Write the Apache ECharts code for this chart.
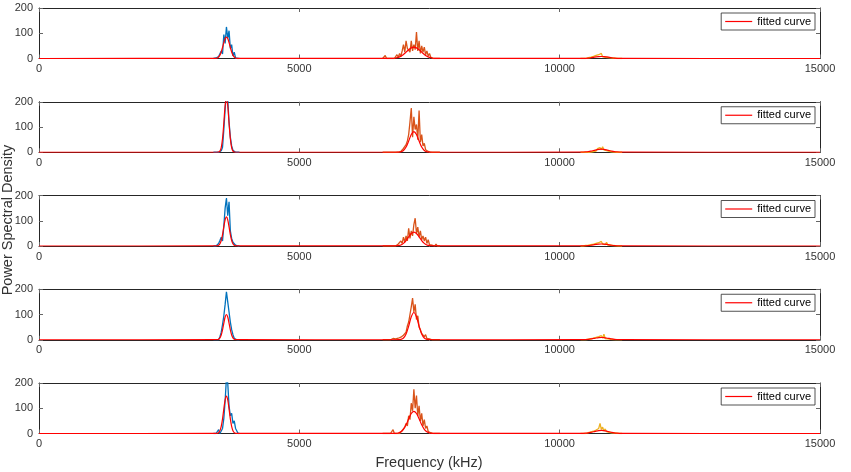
<!DOCTYPE html>
<html><head><meta charset="utf-8">
<script src="https://cdn.jsdelivr.net/npm/echarts@6/dist/echarts.min.js"></script>
<style>html,body{margin:0;padding:0;background:#fff}#c{width:851px;height:472px}</style>
</head><body><div id="c"></div>
<script>
const xTicks = [0, 5000, 10000, 15000];
const yTicks = [0, 100, 200];
const xTitle = 'Frequency (kHz)';
const yTitle = 'Power Spectral Density';
const legendName = 'fitted curve';

const freqBlue = [3350,3375,3400,3425,3450,3475,3500,3525,3550,3575,3600,3625,3650,3675,3700,3725,3750,3775,3800,3825,3850];
const freqOrange = [6600,6625,6650,6675,6700,6725,6750,6775,6800,6825,6850,6875,6900,6925,6950,6975,7000,7025,7050,7075,7100,7125,7150,7175,7200,7225,7250,7275,7300,7325,7350,7375,7400,7425,7450,7475,7500,7525,7550,7575,7600,7625,7650,7675,7700];
const freqYellow = [10400,10425,10450,10475,10500,10525,10550,10575,10600,10625,10650,10675,10700,10725,10750,10775,10800,10825,10850,10875,10900,10925,10950,10975,11000,11025,11050,11075,11100,11125,11150,11175,11200];
const freqFit = [0,3400,3425,3450,3475,3500,3525,3550,3575,3600,3625,3650,3675,3700,3725,3750,3775,3800,6800,6850,6900,6950,7000,7050,7100,7150,7200,7250,7300,7350,7400,7450,7500,7550,7600,10400,10450,10500,10550,10600,10650,10700,10750,10800,10850,10900,10950,11000,11050,11100,11150,11200,15000];

const blue1 = [0,0,2,0,8,3,30,18,95,60,125,80,110,40,55,10,25,2,6,0,0];
const blue2 = [0,0,0,0,0,2,6,20,90,170,240,210,120,60,25,8,3,0,0,0,0];
const blue3 = [0,0,0,4,10,22,35,20,80,150,190,120,175,60,30,15,8,3,0,0,0];
const blue4 = [0,5,0,3,0,12,30,60,95,140,190,150,110,70,40,20,6,2,0,0,0];
const blue5 = [0,0,0,0,15,0,5,20,60,130,220,200,110,70,80,40,50,20,10,0,0];

const orange1 = [0,0,12,0,0,0,0,0,0,0,0,15,5,20,8,30,55,25,70,40,45,25,70,30,55,35,105,30,70,20,50,25,45,15,30,10,20,5,10,0,0,0,0,0,0];
const orange2 = [0,0,0,0,0,0,0,0,0,0,0,0,0,0,3,8,15,10,30,45,70,120,175,60,140,90,110,50,165,40,70,25,35,10,15,3,0,0,0,0,0,0,0,0,0];
const orange3 = [0,0,0,0,0,0,0,0,0,0,0,0,8,4,20,10,35,15,40,20,70,30,60,40,85,110,50,75,35,60,25,40,20,35,10,25,5,12,3,0,0,8,0,0,0];
const orange4 = [0,0,0,0,0,0,0,0,5,0,3,0,6,2,10,5,18,12,30,55,70,100,130,165,110,140,80,95,50,40,25,30,12,20,5,10,3,8,0,4,0,0,0,0,0];
const orange5 = [0,0,0,0,0,0,0,0,15,0,0,0,0,0,5,12,8,25,40,30,70,55,120,90,175,100,150,70,110,50,80,30,55,20,30,8,15,3,6,0,0,0,0,0,0];

const yellow1 = [0,0,0,0,0,0,3,1,5,2,8,4,12,6,15,9,20,7,14,5,11,4,9,3,7,2,5,1,3,0,0,0,0];
const yellow2 = [0,0,0,0,0,2,0,4,1,6,3,10,5,14,8,18,10,22,9,15,6,12,4,8,2,5,1,3,0,0,0,0,0];
const yellow3 = [0,0,0,0,2,0,3,1,5,2,7,3,10,5,13,6,18,8,12,5,15,4,9,3,6,2,4,1,2,0,0,0,0];
const yellow4 = [0,0,0,0,0,0,2,0,4,1,6,3,9,4,12,6,16,7,22,5,10,4,8,2,6,1,4,0,2,0,0,0,0];
const yellow5 = [0,0,0,0,0,0,3,1,6,2,9,4,14,8,20,40,16,25,10,18,7,12,5,9,3,6,2,4,1,0,0,0,0];

const fit1 = [0, 0.7,2.3,5.9,13.4,26,43.8,63.2,79,85,79,63.2,43.8,26,13.4,5.9,2.3,0.7, 0.8,2,4.5,9.1,16.2,25.4,34.9,42.2,45,42.2,34.9,25.4,16.2,9.1,4.5,2,0.8, 0.1,0.4,0.8,1.6,2.9,4.5,6.2,7.5,8,7.5,6.2,4.5,2.9,1.6,0.8,0.4,0.1, 0];
const fit2 = [0, 0,0.1,0.8,4.5,18.3,53.8,116,185,215,185,116,53.8,18.3,4.5,0.8,0.1,0, 0,0,0.3,1.7,7,20.5,44.3,70.5,82,70.5,44.3,20.5,7,1.7,0.3,0,0, 0.2,0.5,1.2,2.4,4.3,6.8,9.3,11.2,12,11.2,9.3,6.8,4.3,2.4,1.2,0.5,0.2, 0];
const fit3 = [0, 0.1,0.7,2.8,8.7,21.9,44.9,75.9,103.5,115,103.5,75.9,44.9,21.9,8.7,2.8,0.7,0.1, 0.1,0.4,1.3,4.2,10.5,21.5,36.3,49.5,55,49.5,36.3,21.5,10.5,4.2,1.3,0.4,0.1, 0.1,0.4,0.8,1.6,2.9,4.5,6.2,7.5,8,7.5,6.2,4.5,2.9,1.6,0.8,0.4,0.1, 0];
const fit4 = [0, 0.1,0.6,2.4,7.6,19,39,66,90,100,90,66,39,19,7.6,2.4,0.6,0.1, 0,0,0.2,1.4,6.8,22.9,53.9,90.8,108,90.8,53.9,22.9,6.8,1.4,0.2,0,0, 0.2,0.4,0.9,1.8,3.2,5.1,7,8.4,9,8.4,7,5.1,3.2,1.8,0.9,0.4,0.2, 0];
const fit5 = [0, 0.2,0.9,3.6,11.2,28.1,57.7,97.7,133,148,133,97.7,57.7,28.1,11.2,3.6,0.9,0.2, 0.1,0.6,2.1,6.7,16.7,34.3,58.1,79.2,88,79.2,58.1,34.3,16.7,6.7,2.1,0.6,0.1, 0.2,0.5,1.2,2.4,4.3,6.8,9.3,11.2,12,11.2,9.3,6.8,4.3,2.4,1.2,0.5,0.2, 0];

const blues = [blue1, blue2, blue3, blue4, blue5];
const oranges = [orange1, orange2, orange3, orange4, orange5];
const yellows = [yellow1, yellow2, yellow3, yellow4, yellow5];
const fits = [fit1, fit2, fit3, fit4, fit5];

const FONT = '"Liberation Sans", Arial, Helvetica, sans-serif';
const AX = '#262626';
const TXT = '#333333';
const tops = [8, 101.75, 195.5, 289.25, 383];
const H = 50.5;

function pairs(xs, ys) { return xs.map((x, k) => [x, ys[k]]); }
const plain = v => String(v);

const grid = [], xAxis = [], yAxis = [], series = [], legend = [];
for (let i = 0; i < 5; i++) {
  grid.push({ left: 39, right: 31, top: tops[i], height: H });
  const xBase = { type: 'value', gridIndex: i, min: xTicks[0], max: xTicks[xTicks.length - 1], interval: xTicks[1] - xTicks[0],
    splitLine: { show: false },
    axisLine: { show: true, onZero: false, lineStyle: { color: AX, width: 1 } },
    axisTick: { show: true, inside: true, length: 4, lineStyle: { color: '#666', width: 1 } } };
  xAxis.push(Object.assign({}, xBase, { position: 'bottom',
    axisLabel: { show: true, color: TXT, fontSize: 11, margin: 5, fontFamily: FONT, formatter: plain, showMinLabel: true, showMaxLabel: true } }));
  xAxis.push(Object.assign({}, xBase, { position: 'top', axisLabel: { show: false } }));
  const yBase = { type: 'value', gridIndex: i, min: yTicks[0], max: yTicks[yTicks.length - 1], interval: yTicks[1] - yTicks[0],
    splitLine: { show: false },
    axisLine: { show: true, onZero: false, lineStyle: { color: AX, width: 1 } },
    axisTick: { show: true, inside: true, length: 4, lineStyle: { color: '#666', width: 1 } } };
  yAxis.push(Object.assign({}, yBase, { position: 'left',
    axisLabel: { show: true, color: TXT, fontSize: 11, margin: 6, fontFamily: FONT, formatter: plain } }));
  yAxis.push(Object.assign({}, yBase, { position: 'right', axisLabel: { show: false } }));

  const common = { type: 'line', xAxisIndex: 2 * i, yAxisIndex: 2 * i, symbol: 'none', animation: false, clip: true, silent: true };
  series.push(Object.assign({}, common, { name: 'psd-a' + i, data: pairs(freqBlue, blues[i]), lineStyle: { color: '#0072BD', width: 1.3 }, itemStyle: { color: '#0072BD' } }));
  series.push(Object.assign({}, common, { name: 'psd-b' + i, data: pairs(freqOrange, oranges[i]), lineStyle: { color: '#D95319', width: 1.3 }, itemStyle: { color: '#D95319' } }));
  series.push(Object.assign({}, common, { name: 'psd-c' + i, data: pairs(freqYellow, yellows[i]), lineStyle: { color: '#EDB120', width: 1.3 }, itemStyle: { color: '#EDB120' } }));
  series.push(Object.assign({}, common, { name: legendName, data: pairs(freqFit, fits[i]), smooth: 0.3, lineStyle: { color: '#FF0000', width: 1.2 }, itemStyle: { color: '#FF0000' }, z: 5 }));

  legend.push({ data: [legendName], top: tops[i] + 5, right: 36, orient: 'horizontal', selectedMode: false,
    icon: 'rect', itemWidth: 27, itemHeight: 1.2, itemGap: 0, padding: [3, 4, 3, 4],
    borderColor: AX, borderWidth: 0.8, borderRadius: 0, backgroundColor: '#fff',
    itemStyle: { color: '#FF0000' },
    textStyle: { fontSize: 11, color: '#000', fontFamily: FONT } });
}

const chart = echarts.init(document.getElementById('c'), null, { renderer: 'canvas' });
chart.setOption({
  animation: false,
  backgroundColor: '#fff',
  grid, xAxis, yAxis, series, legend,
  graphic: [
    { type: 'text', x: 429, y: 463, silent: true,
      style: { text: xTitle, fill: TXT, fontSize: 14.5, fontFamily: FONT, align: 'center', verticalAlign: 'middle', textAlign: 'center', textVerticalAlign: 'middle' } },
    { type: 'text', x: 8, y: 220, rotation: Math.PI / 2, silent: true,
      style: { text: yTitle, fill: TXT, fontSize: 14.5, fontFamily: FONT, align: 'center', verticalAlign: 'middle', textAlign: 'center', textVerticalAlign: 'middle' } }
  ]
});
</script>
</body></html>
